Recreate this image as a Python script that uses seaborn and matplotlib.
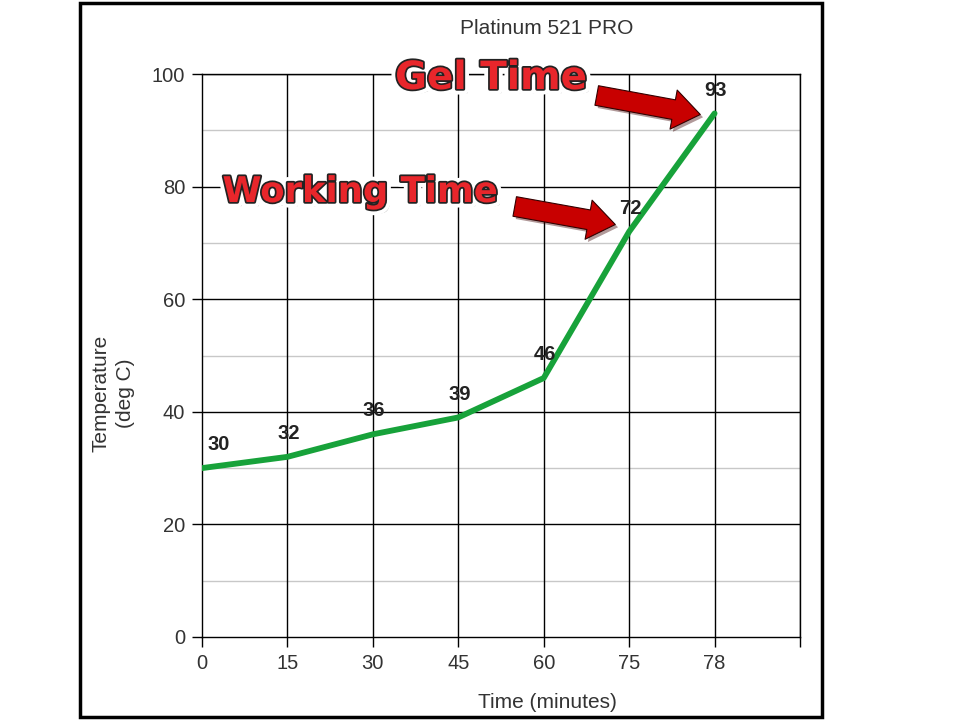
import numpy as np
import pandas as pd
import seaborn as sns
import matplotlib.pyplot as plt
import matplotlib.patheffects as pe
from matplotlib.patches import Rectangle, FancyArrowPatch

# data
time_labels = ['0', '15', '30', '45', '60', '75', '78']
temperature = [30, 32, 36, 39, 46, 72, 93]

df = pd.DataFrame({'pos': np.arange(len(time_labels)), 'temp': temperature})

sns.set_theme(style='white')
plt.rcParams['font.family'] = ['Liberation Sans', 'DejaVu Sans']

fig = plt.figure(figsize=(9.6, 7.2), dpi=100)
ax = fig.add_axes([202 / 960, 83 / 720, 598 / 960, 563 / 720])

# grid: light minor lines, black major lines
for y in range(10, 100, 20):
    ax.axhline(y, color='#c8c8c8', lw=1, zorder=0)
for y in range(20, 101, 20):
    ax.axhline(y, color='black', lw=1, zorder=0.5)
for x in range(1, len(time_labels) + 1):
    ax.axvline(x, color='black', lw=1, zorder=0.5)

sns.lineplot(data=df, x='pos', y='temp', color='#17a23a', lw=4.2,
             solid_capstyle='round', ax=ax, zorder=3)

# value labels
for i, v in enumerate(temperature):
    dx = 12 if i == 0 else 1
    ax.annotate(str(v), (i, v), xytext=(dx, 10), textcoords='offset points',
                ha='center', va='bottom', fontsize=14.5, fontweight='bold',
                color='#222222', zorder=4)

ax.set_xlim(0, len(time_labels))
ax.set_ylim(0, 100)
ax.set_xticks(range(len(time_labels) + 1))
ax.set_xticklabels(time_labels + [''])
ax.set_yticks(range(0, 101, 20))
ax.tick_params(axis='both', direction='out', length=7, width=1, color='black',
               labelsize=14.5, labelcolor='#333333', bottom=True, left=True, pad=5)
ax.set_xlabel('')
ax.set_ylabel('')
for s in ax.spines.values():
    s.set_color('black')
    s.set_linewidth(1)

fig.text(547 / 960, 1 - 28 / 720, 'Platinum 521 PRO', ha='center', va='center',
         fontsize=15, color='#333333')
fig.text(547 / 960, 1 - 703 / 720, 'Time (minutes)', ha='center', va='center',
         fontsize=15, color='#333333')
fig.text(113 / 960, 1 - 393 / 720, 'Temperature\n(deg C)', ha='center', va='center',
         rotation=90, fontsize=15, color='#333333', linespacing=1.35)

# outer black frame
fig.patches.append(Rectangle((80 / 960, 3 / 720), 742 / 960, 714 / 720,
                             transform=fig.transFigure, fill=False,
                             edgecolor='black', lw=2.5))

# cartoon callouts
fx = [pe.withSimplePatchShadow(offset=(3, -3), shadow_rgbFace='#888888', alpha=0.6),
      pe.Stroke(linewidth=8, foreground='white'),
      pe.Stroke(linewidth=2.5, foreground='#222222'),
      pe.Normal()]
for txt, cx, cy, size in [('Gel Time', 491, 78, 28), ('Working Time', 360, 192, 25.5)]:
    fig.text(cx / 960, 1 - cy / 720, txt, ha='center', va='center', fontsize=size,
             fontweight='bold', color='#e8262b', family='DejaVu Sans',
             path_effects=fx, zorder=10)

for (x0, y0), (x1, y1) in [((594, 95), (703, 115)), ((512, 206), (618, 225))]:
    arr = FancyArrowPatch((x0 / 960, 1 - y0 / 720), (x1 / 960, 1 - y1 / 720),
                          transform=fig.transFigure,
                          arrowstyle='simple,head_length=1.5,head_width=2.2,tail_width=1.1',
                          mutation_scale=13, facecolor='#c80000', edgecolor='#330000',
                          lw=0.8, zorder=10)
    arr.set_path_effects([pe.withSimplePatchShadow(offset=(2, -2), alpha=0.4)])
    fig.patches.append(arr)

fig.savefig('out.png', dpi=100)
